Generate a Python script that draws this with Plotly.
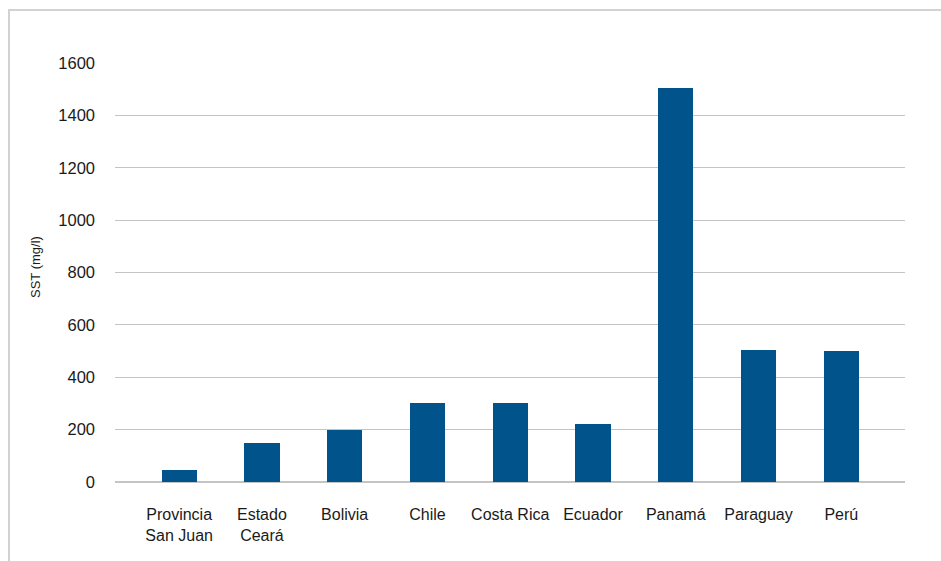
import plotly.graph_objects as go

# Suspended solids (SST) by country / region
categories = [
    "Provincia<br>San Juan", "Estado<br>Ceará", "Bolivia", "Chile", "Costa Rica",
    "Ecuador", "Panamá", "Paraguay", "Perú",
]
sst_values = [47, 150, 200, 300, 300, 222, 1505, 505, 500]
y_ticks = [0, 200, 400, 600, 800, 1000, 1200, 1400, 1600]

W, H = 941, 561
L, R, T, B = 115, 36, 63, 79
pw, ph = W - L - R, H - T - B

bar_color = "#01538b"
grid_color = "#c4c4c4"
text_color = "#1a1a1a"
font_family = "Liberation Sans, Arial, sans-serif"

fig = go.Figure(
    go.Bar(
        x=list(range(len(categories))),
        y=sst_values,
        marker=dict(color=bar_color, line=dict(width=0)),
        width=0.425,
    )
)

# outer frame (only top and left edges fall inside the page)
def px_x(p):
    return (p - L) / pw

def px_y(p):
    return (H - B - p) / ph

fig.add_shape(
    type="rect", xref="paper", yref="paper",
    x0=px_x(9), x1=px_x(960), y0=px_y(10), y1=px_y(580),
    line=dict(color="#d2d2d2", width=2), fillcolor="rgba(0,0,0,0)",
    layer="below",
)

fig.add_annotation(
    text="SST (mg/l)", textangle=-90, xref="paper", yref="paper",
    x=px_x(35), y=px_y(267), showarrow=False,
    font=dict(family=font_family, size=13, color=text_color),
    xanchor="center", yanchor="middle",
)

fig.update_layout(
    width=W, height=H,
    margin=dict(l=L, r=R, t=T, b=B, pad=0),
    paper_bgcolor="white", plot_bgcolor="white",
    showlegend=False,
    font=dict(family=font_family, size=16, color=text_color),
    xaxis=dict(
        tickmode="array", tickvals=list(range(len(categories))), ticktext=categories,
        range=[-0.775, 8.77], showgrid=False, zeroline=False, showline=False,
        ticks="", tickangle=0, ticklabelstandoff=21,
        tickfont=dict(size=16, color=text_color),
    ),
    yaxis=dict(
        range=[0, 1600], tickmode="array", tickvals=y_ticks,
        showgrid=True, gridcolor=grid_color, gridwidth=1,
        zeroline=True, zerolinecolor=grid_color, zerolinewidth=1.5,
        showline=False, ticks="", ticklabelstandoff=19,
        tickfont=dict(size=16.5, color=text_color),
    ),
    bargap=0,
)

fig.write_html("out.html")
